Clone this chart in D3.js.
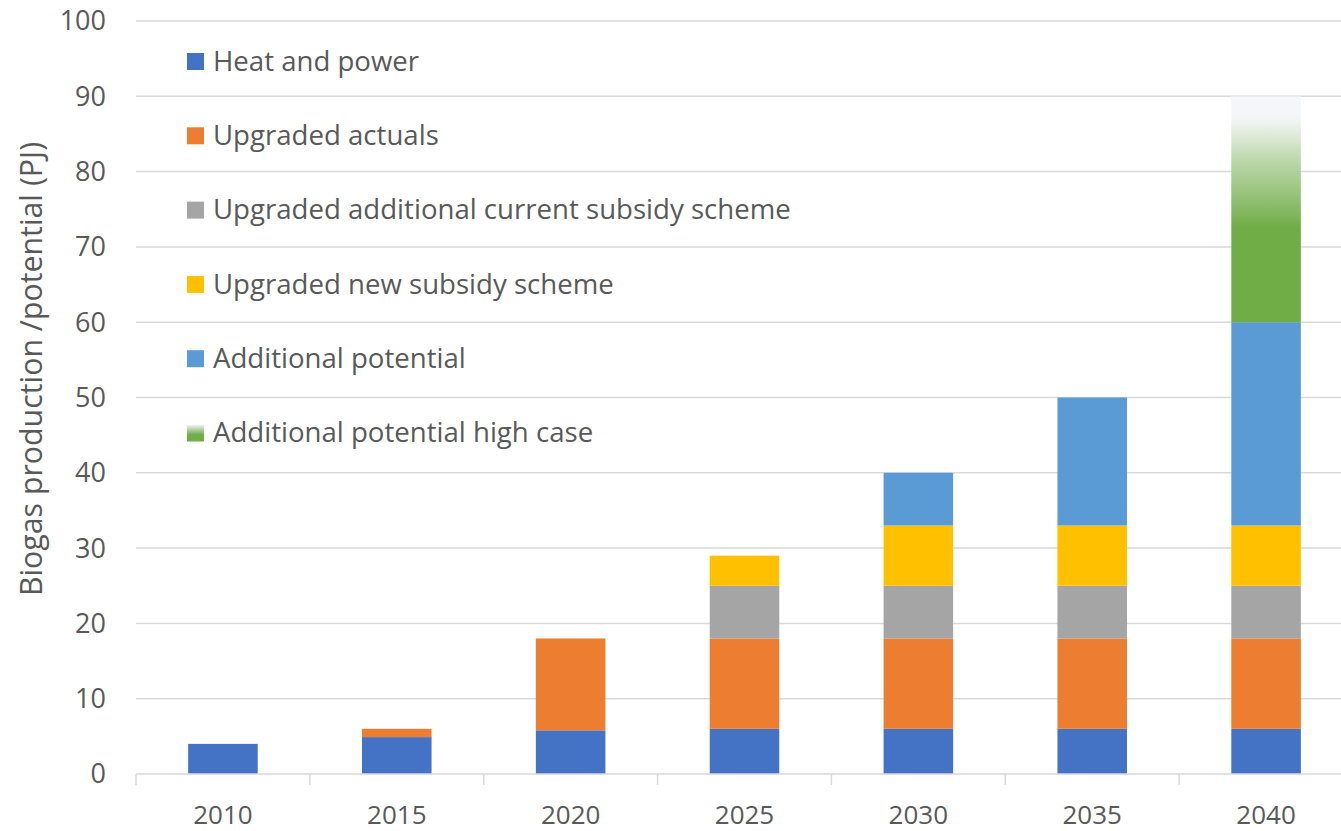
<!DOCTYPE html>
<html><head><meta charset="utf-8">
<script src="https://cdn.jsdelivr.net/npm/d3@7"></script>
<style>
html,body{margin:0;padding:0;background:#fff;overflow:hidden;}
text{font-family:"Open Sans","Noto Sans",sans-serif;fill:#595959;}
</style></head>
<body>
<svg id="chart" width="1341" height="831"></svg>
<script>
const years = ["2010","2015","2020","2025","2030","2035","2040"];
const seriesNames = ["Heat and power","Upgraded actuals","Upgraded additional current subsidy scheme","Upgraded new subsidy scheme","Additional potential","Additional potential high case"];
const heatPower      = [4, 4.9, 5.8, 6, 6, 6, 6];
const upgradedActual = [0, 1.1, 12.2, 12, 12, 12, 12];
const upgradedCurr   = [0, 0, 0, 7, 7, 7, 7];
const upgradedNew    = [0, 0, 0, 4, 8, 8, 8];
const addPotential   = [0, 0, 0, 0, 7, 17, 27];
const addHighCase    = [0, 0, 0, 0, 0, 0, 30];
const yTicks = [0,10,20,30,40,50,60,70,80,90,100];
const colors = ["#4472C4","#ED7D31","#A5A5A5","#FFC000","#5B9BD5","url(#greenGrad)"];

const svg = d3.select("#chart");
const margin = {left:136, right:1353, top:21, bottom:774};
const x = d3.scaleBand().domain(years).range([margin.left, margin.right]).paddingInner(0.6).paddingOuter(0.3);
const xb = d3.scaleBand().domain(years).range([margin.left, margin.right]);
const y = d3.scaleLinear().domain([0,100]).range([margin.bottom, margin.top]);

const defs = svg.append("defs");
const g = defs.append("linearGradient").attr("id","greenGrad").attr("x1",0).attr("y1",1).attr("x2",0).attr("y2",0);
g.append("stop").attr("offset","0%").attr("stop-color","#70AD47");
g.append("stop").attr("offset","42%").attr("stop-color","#70AD47");
g.append("stop").attr("offset","52%").attr("stop-color","#8CBC6B");
g.append("stop").attr("offset","72%").attr("stop-color","#BED8AD");
g.append("stop").attr("offset","88%").attr("stop-color","#EEF3EE");
g.append("stop").attr("offset","92%").attr("stop-color","#F4F6FA");
g.append("stop").attr("offset","100%").attr("stop-color","#F4F6FA");
const gl = defs.append("linearGradient").attr("id","greenLeg").attr("x1",0).attr("y1",1).attr("x2",0).attr("y2",0);
gl.append("stop").attr("offset","0%").attr("stop-color","#70AD47");
gl.append("stop").attr("offset","40%").attr("stop-color","#70AD47");
gl.append("stop").attr("offset","100%").attr("stop-color","#F4F6FA");

// gridlines
svg.append("g").selectAll("line").data(yTicks.filter(d=>d>0)).join("line")
  .attr("x1",margin.left).attr("x2",1341).attr("y1",d=>y(d)).attr("y2",d=>y(d))
  .attr("stroke","#D9D9D9").attr("stroke-width",1.5);

// y labels
svg.append("g").selectAll("text").data(yTicks).join("text")
  .attr("x",106).attr("y",d=>y(d)).attr("dy","0.35em").attr("text-anchor","end")
  .attr("font-size",27).text(d=>d);

// stacked bars
const data = years.map((yr,i)=>({year:yr, s0:heatPower[i], s1:upgradedActual[i], s2:upgradedCurr[i], s3:upgradedNew[i], s4:addPotential[i], s5:addHighCase[i]}));
const stack = d3.stack().keys(["s0","s1","s2","s3","s4","s5"])(data);
svg.append("g").selectAll("g").data(stack).join("g").attr("fill",(d,i)=>colors[i])
  .selectAll("rect").data(d=>d.filter(p=>p[1]-p[0]>0)).join("rect")
  .attr("x",d=>x(d.data.year)).attr("width",x.bandwidth())
  .attr("y",d=>y(d[1])).attr("height",d=>y(d[0])-y(d[1]));

// x axis line & ticks
svg.append("line").attr("x1",margin.left).attr("x2",1341).attr("y1",y(0)).attr("y2",y(0)).attr("stroke","#D9D9D9").attr("stroke-width",1.5);
svg.append("g").selectAll("line").data(years).join("line")
  .attr("x1",d=>xb(d)).attr("x2",d=>xb(d)).attr("y1",y(0)).attr("y2",y(0)+11)
  .attr("stroke","#D9D9D9").attr("stroke-width",1.5);
svg.append("g").selectAll("text").data(years).join("text")
  .attr("x",d=>xb(d)+xb.bandwidth()/2).attr("y",815).attr("dy","0.35em").attr("text-anchor","middle")
  .attr("font-size",26).text(d=>d);

// y title
svg.append("text").attr("transform","translate(31,369) rotate(-90)").attr("text-anchor","middle")
  .attr("dy","0.35em").attr("font-size",30.3).text("Biogas production /potential (PJ)");

// legend
const legColors = ["#4472C4","#ED7D31","#A5A5A5","#FFC000","#5B9BD5","url(#greenLeg)"];
const leg = svg.append("g").selectAll("g").data(seriesNames).join("g")
  .attr("transform",(d,i)=>`translate(187,${61+i*74.3})`);
leg.append("rect").attr("x",0).attr("y",-8).attr("width",17).attr("height",17).attr("fill",(d,i)=>legColors[i]);
leg.append("text").attr("x",26).attr("dy","0.35em").attr("font-size",27.6).text(d=>d);
</script>
</body></html>
